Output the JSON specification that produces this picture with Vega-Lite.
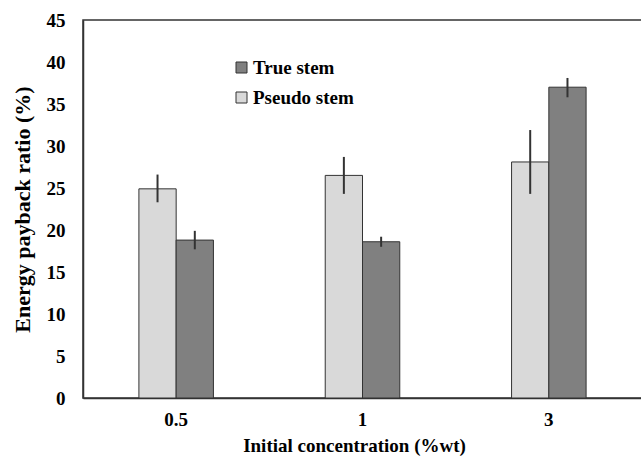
{
  "$schema": "https://vega.github.io/schema/vega-lite/v6.json",
  "autosize": {"type": "none"},
  "padding": {"left": 83, "top": 20, "right": 0, "bottom": 58},
  "width": 559,
  "height": 378,
  "background": "white",
  "config": {
    "font": "Liberation Serif",
    "view": {"stroke": "#333333", "strokeWidth": 1.5},
    "axis": {"grid": false, "ticks": false, "labelFont": "Liberation Serif", "titleFont": "Liberation Serif", "labelFontWeight": "bold", "titleFontWeight": "bold", "labelColor": "black", "titleColor": "black", "domainColor": "#333333", "domainWidth": 1.5}
  },
  "data": {"values": [
    {"conc": "0.5", "stem": "Pseudo stem", "value": 24.9, "lo": 23.3, "hi": 26.6},
    {"conc": "0.5", "stem": "True stem", "value": 18.8, "lo": 17.7, "hi": 19.9},
    {"conc": "1", "stem": "Pseudo stem", "value": 26.5, "lo": 24.3, "hi": 28.7},
    {"conc": "1", "stem": "True stem", "value": 18.6, "lo": 18.0, "hi": 19.2},
    {"conc": "3", "stem": "Pseudo stem", "value": 28.1, "lo": 24.3, "hi": 31.9},
    {"conc": "3", "stem": "True stem", "value": 37.0, "lo": 35.8, "hi": 38.1}
  ]},
  "encoding": {
    "x": {"field": "conc", "type": "nominal", "sort": ["0.5", "1", "3"],
      "scale": {"paddingInner": 0.6, "paddingOuter": 0.3},
      "axis": {"title": "Initial concentration (%wt)", "labelAngle": 0, "labelFontSize": 19, "titleFontSize": 19, "labelPadding": 12, "titlePadding": 7, "titleX": 271}},
    "xOffset": {"field": "stem", "type": "nominal", "sort": ["Pseudo stem", "True stem"], "scale": {"paddingInner": 0, "paddingOuter": 0}}
  },
  "layer": [
    {
      "mark": {"type": "bar", "stroke": "#333333", "strokeWidth": 1},
      "encoding": {
        "y": {"field": "value", "type": "quantitative",
          "scale": {"domain": [0, 45]},
          "axis": {"title": "Energy payback ratio (%)", "values": [0,5,10,15,20,25,30,35,40,45], "labelFontSize": 19, "titleFontSize": 22, "labelPadding": 18, "titlePadding": 12}},
        "color": {"field": "stem", "type": "nominal",
          "scale": {"domain": ["True stem", "Pseudo stem"], "range": ["#808080", "#d9d9d9"]},
          "legend": {"title": null, "orient": "none", "legendX": 149, "legendY": 38,
            "symbolType": "square", "symbolSize": 121, "symbolStrokeColor": "#333333", "symbolStrokeWidth": 1,
            "labelFont": "Liberation Serif", "labelFontWeight": "bold", "labelFontSize": 19, "labelColor": "black", "rowPadding": 10, "labelOffset": 2}}
      }
    },
    {
      "mark": {"type": "rule", "stroke": "#333333", "strokeWidth": 2},
      "encoding": {
        "y": {"field": "lo", "type": "quantitative"},
        "y2": {"field": "hi"}
      }
    }
  ]
}
